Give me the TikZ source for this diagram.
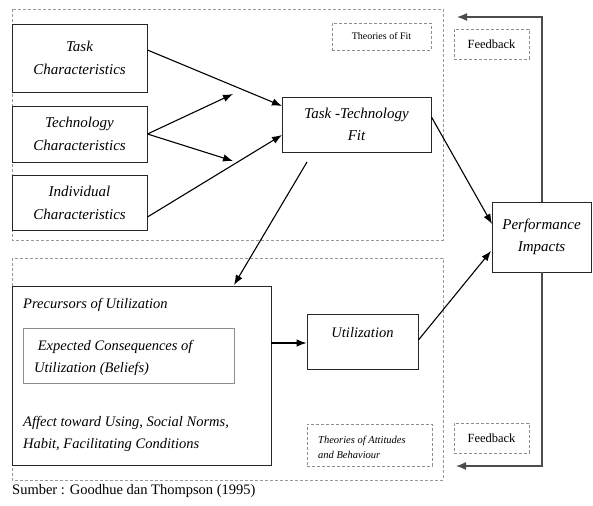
\documentclass[tikz,border=0pt]{standalone}
\usepackage{fontspec}
\setmainfont{Liberation Serif}
\usetikzlibrary{arrows.meta,calc}
\begin{document}
\begin{tikzpicture}[x=1pt,y=-1pt,
  box/.style={draw=black!85,line width=0.9pt,inner sep=0pt,align=center,font=\fontsize{15}{23}\selectfont\itshape},
  dbox/.style={draw=black!45,densely dashed,line width=0.7pt,inner sep=0pt,align=center},
  region/.style={draw=black!40,densely dashed,line width=0.7pt},
  conn/.style={draw=black,line width=1.1pt,-{Latex[length=10pt,width=7.5pt]}},
  fb/.style={draw=black!70,line width=1.3pt,-{Latex[length=10pt,width=8pt]}},
  txt/.style={inner sep=0pt,align=left,font=\fontsize{14.5}{22}\selectfont\itshape}
]
\useasboundingbox (0,0) rectangle (593,505);
% regions
\draw[region] (12,9) rectangle (443,240);
\draw[region] (12,258) rectangle (443,480);
% boxes
\node[box,minimum width=135,minimum height=68] (task) at (79.5,58) {Task\\Characteristics};
\node[box,minimum width=135,minimum height=56] (tech) at (79.5,134) {Technology\\Characteristics};
\node[box,minimum width=135,minimum height=55] (indiv) at (79.5,203) {Individual\\Characteristics};
\node[box,minimum width=149,minimum height=55,font=\fontsize{15}{22}\selectfont\itshape] (ttf) at (356.5,124.5) {Task -Technology\\Fit};
\node[box,minimum width=99,minimum height=70,font=\fontsize{15}{22}\selectfont\itshape] (perf) at (541.5,237) {Performance\\Impacts};
\node[box,minimum width=259,minimum height=179] (prec) at (141.5,375.5) {};
\node[draw=black!45,line width=0.9pt,minimum width=211,minimum height=55,inner sep=0pt] (exp) at (128.5,355.5) {};
\node[txt,anchor=west] (exptxt) at (34,358) {\ Expected Consequences of\\Utilization (Beliefs)};
\node[txt,anchor=west] (prectxt) at (23,305) {Precursors of Utilization};
\node[txt,anchor=west] (afftxt) at (23,434) {Affect toward Using, Social Norms,\\Habit, Facilitating Conditions};
\node[box,minimum width=111,minimum height=55] (util) at (362.5,341.5) {};
\node[txt] (utiltxt) at (362.5,333) {Utilization};
% dashed label boxes
\node[dbox,minimum width=99,minimum height=27,font=\fontsize{10}{12}\selectfont] (thfit) at (381.5,36.5) {Theories of Fit};
\node[dbox,minimum width=75,minimum height=30,font=\fontsize{12.5}{14}\selectfont] (fb1) at (491.5,44) {Feedback};
\node[dbox,minimum width=125,minimum height=42] (thatt) at (369.5,445) {};
\node[inner sep=0pt,align=left,anchor=west,font=\fontsize{10.5}{15}\selectfont\itshape] (thatttxt) at (318,447) {Theories of Attitudes\\and Behaviour};
\node[dbox,minimum width=75,minimum height=30,font=\fontsize{12.5}{14}\selectfont] (fb2) at (491.5,438) {Feedback};
% caption
\node[inner sep=0pt,anchor=west,font=\fontsize{14.5}{16}\selectfont] (src) at (12,491) {Sumber : Goodhue dan Thompson (1995)};
% connector coordinates
\coordinate (ttfa) at (282,106);
\coordinate (ttfb) at (282,135);
\coordinate (mid1) at (233,94);
\coordinate (mid2) at (233,161);
\coordinate (ttfbot) at (307,162);
\coordinate (precin) at (234,285);
\coordinate (perfa) at (492,224);
\coordinate (perfb) at (491,251);
\coordinate (fbtopend) at (457,17);
\coordinate (fbbotend) at (456,466);
% connectors
\draw[conn] ($(task.east)+(0,-8)$) -- (ttfa);
\draw[conn] (tech.east) -- (mid1);
\draw[conn] (tech.east) -- (mid2);
\draw[conn] ($(indiv.east)+(0,14)$) -- (ttfb);
\draw[conn] (ttfbot) -- (precin);
\draw[conn] ($(ttf.east)+(0,-7.5)$) -- (perfa);
\draw[conn] ($(prec.east)+(0,-32.5)$) -- ($(util.west)+(0,1.5)$);
\draw[conn] ($(util.east)+(0,-1.5)$) -- (perfb);
\draw[fb] ($(perf.north west)+(50.5,0)$) |- (fbtopend);
\draw[fb] ($(perf.south west)+(50.5,0)$) |- (fbbotend);
\end{tikzpicture}
\end{document}
